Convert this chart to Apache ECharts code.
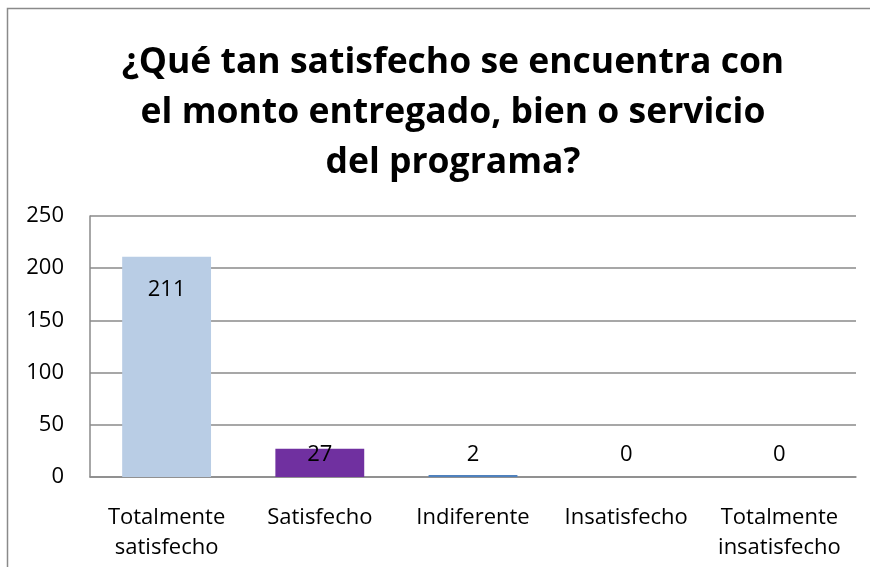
<!DOCTYPE html>
<html>
<head>
<meta charset="utf-8">
<script src="https://cdn.jsdelivr.net/npm/echarts@6/dist/echarts.min.js"></script>
<style>
  html, body { margin: 0; padding: 0; background: #fff; }
  #chart { width: 870px; height: 567px; }
</style>
</head>
<body>
<div id="chart"></div>
<script>
    // data
    let categories = ['Totalmente\nsatisfecho', 'Satisfecho', 'Indiferente', 'Insatisfecho', 'Totalmente\ninsatisfecho'];
    let values = [211, 27, 2, 0, 0];
    let barColors = ['#b9cde5', '#7030a0', '#4f81bd', '#4f81bd', '#4f81bd'];
    let titleText = '¿Qué tan satisfecho se encuentra con\nel monto entregado, bien o servicio\ndel programa?';

    let font = '"Open Sans", "Noto Sans", sans-serif';

    let barData = values.map(function (v, i) {
        let small = v < 40;
        return {
            value: v,
            itemStyle: {color: barColors[i]},
            label: small
                ? {position: 'insideBottom', distance: 10}
                : {position: 'insideTop', distance: 21}
        };
    });

    let myChart = echarts.init(document.getElementById('chart'));
    myChart.setOption({
        animation: false,
        textStyle: {fontFamily: font},
        graphic: [{
            type: 'rect',
            shape: {x: 7.5, y: 8.5, width: 900, height: 600},
            style: {fill: 'none', stroke: '#8a8a8a', lineWidth: 1.5}
        }],
        title: {
            text: titleText,
            left: 448,
            textAlign: 'center',
            top: 33,
            textStyle: {
                fontFamily: font,
                fontSize: 35.5,
                fontWeight: 'bold',
                color: '#000',
                lineHeight: 50
            }
        },
        grid: {
            left: 90,
            right: 14,
            top: 216,
            bottom: 90
        },
        xAxis: {
            type: 'category',
            data: categories,
            axisTick: {show: false},
            axisLine: {lineStyle: {color: '#8a8a8a', width: 1.5}},
            axisLabel: {
                interval: 0,
                color: '#000',
                fontSize: 22,
                lineHeight: 30,
                margin: 26
            }
        },
        yAxis: {
            type: 'value',
            min: 0,
            max: 250,
            interval: 50,
            axisLine: {show: true, lineStyle: {color: '#8a8a8a', width: 1.5}},
            axisTick: {show: false},
            splitLine: {lineStyle: {color: '#8a8a8a', width: 1.5}},
            axisLabel: {
                color: '#000',
                fontSize: 22,
                margin: 26
            }
        },
        series: [{
            type: 'bar',
            data: barData,
            barWidth: '58%',
            label: {
                show: true,
                color: '#000',
                fontSize: 22,
                lineHeight: 24,
                fontFamily: font
            }
        }]
    });
</script>
</body>
</html>
